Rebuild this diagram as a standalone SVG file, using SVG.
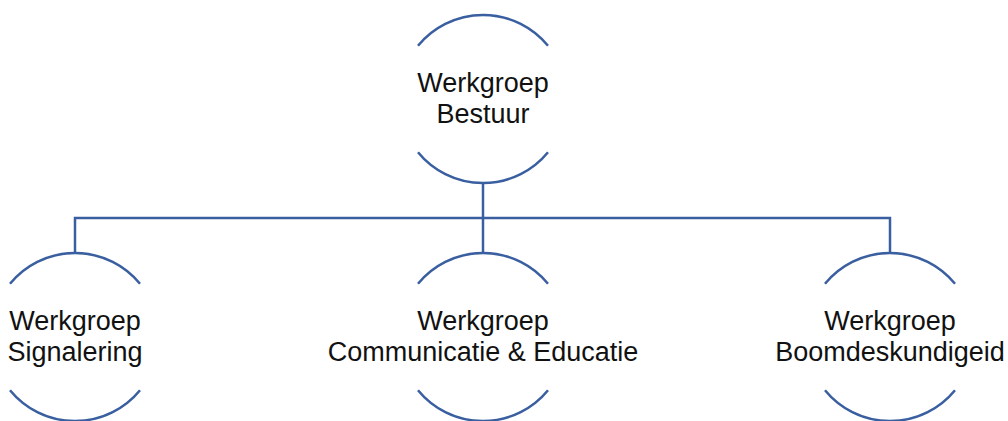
<svg xmlns="http://www.w3.org/2000/svg" width="1008" height="421" viewBox="0 0 1008 421">
<style>
.arc{fill:none;stroke:#3A5FA0;stroke-width:2.5}
.con{fill:none;stroke:#3A5FA0;stroke-width:2.5}
text{font-family:"Liberation Sans",Arial,sans-serif;font-size:27px;fill:#111;text-anchor:middle}
</style>
<rect width="1008" height="421" fill="#fff"/>
<g id="connectors">
<path class="con" d="M483 183 V218 M75 253 V218 H890 V253 M483 218 V253"/>
</g>
<g id="node-bestuur">
<path class="arc" d="M418 45.8 A84 84 0 0 1 548 45.8 M418 152.2 A84 84 0 0 0 548 152.2"/>
<text x="483" y="92">Werkgroep</text>
<text x="483" y="123">Bestuur</text>
</g>
<g id="node-signalering">
<path class="arc" d="M10 283.8 A84 84 0 0 1 140 283.8 M10 390.2 A84 84 0 0 0 140 390.2"/>
<text x="75" y="330">Werkgroep</text>
<text x="75" y="361">Signalering</text>
</g>
<g id="node-communicatie">
<path class="arc" d="M418 283.8 A84 84 0 0 1 548 283.8 M418 390.2 A84 84 0 0 0 548 390.2"/>
<text x="483" y="330">Werkgroep</text>
<text x="483" y="361">Communicatie &amp; Educatie</text>
</g>
<g id="node-boomdeskundigeid">
<path class="arc" d="M825 283.8 A84 84 0 0 1 955 283.8 M825 390.2 A84 84 0 0 0 955 390.2"/>
<text x="890" y="330">Werkgroep</text>
<text x="890" y="361">Boomdeskundigeid</text>
</g>
</svg>
